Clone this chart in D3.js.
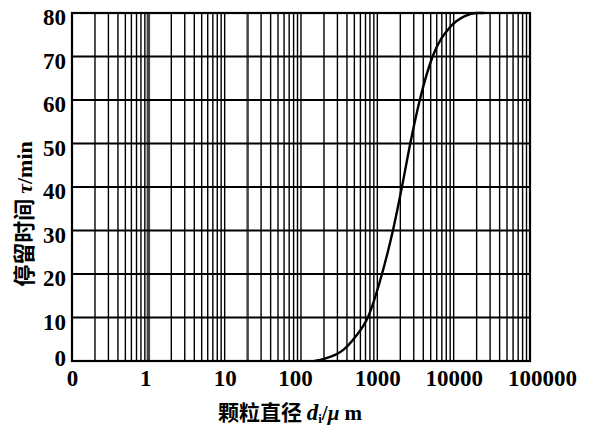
<!DOCTYPE html>
<html>
<head>
<meta charset="utf-8">
<script src="https://cdn.jsdelivr.net/npm/d3@7"></script>
<style>
  body { margin: 0; background: #fff; }
  svg { display: block; }
  .tick text { font-family: "Liberation Serif", "DejaVu Serif", serif; font-weight: bold; font-size: 23px; fill: #000; }
  .title { font-family: "Noto Sans CJK SC", sans-serif; font-weight: bold; font-size: 21px; fill: #000; }
  .title tspan.lat { font-family: "Liberation Serif", serif; font-weight: bold; }
</style>
</head>
<body>
<div id="chart"></div>
<script>
// particle diameter (um) vs residence time (min)
var diam = [150, 200, 280, 355, 513, 750, 1150, 1600, 2100, 2700, 3600, 5300, 9000, 14000, 20000, 25000];
var tau  = [0, 0.5, 1.4, 2.5, 5.5, 10, 20, 30, 40, 50, 60, 70, 76.8, 79.3, 80, 80];

var xTicks = [0.1, 1, 10, 100, 1000, 10000, 100000];
var xLabels = ["0", "1", "10", "100", "1000", "10000", "100000"];
var yTicks = [0, 10, 20, 30, 40, 50, 60, 70, 80];

var W = 594, H = 433;
var pLeft = 72, pRight = 530, pTop = 13, pBottom = 361;

var svg = d3.select("#chart").append("svg")
  .attr("width", W)
  .attr("height", H);

var x = d3.scaleLog().domain([0.1, 100000]).range([pLeft, pRight]);
var y = d3.scaleLinear().domain([0, 80]).range([pBottom, pTop]);

// vertical log grid (1..9 per decade)
svg.append("g")
  .selectAll("line")
  .data(x.ticks())
  .enter().append("line")
  .attr("x1", d => x(d)).attr("x2", d => x(d))
  .attr("y1", pTop).attr("y2", pBottom)
  .attr("stroke", d => (d === 1 || d === 20) ? "#444" : "#000")
  .attr("stroke-width", d => d === 1 ? 3.5 : (d === 20 ? 2.5 : 1.4));

// horizontal grid
svg.append("g")
  .selectAll("line")
  .data(yTicks)
  .enter().append("line")
  .attr("x1", pLeft).attr("x2", pRight)
  .attr("y1", d => y(d)).attr("y2", d => y(d))
  .attr("stroke", "#000")
  .attr("stroke-width", 2.2);

// frame
svg.append("rect")
  .attr("x", pLeft).attr("y", pTop)
  .attr("width", pRight - pLeft).attr("height", pBottom - pTop)
  .attr("fill", "none")
  .attr("stroke", "#000")
  .attr("stroke-width", 2.2);

// axes (labels only)
var xAxis = d3.axisBottom(x)
  .tickValues(xTicks)
  .tickFormat((d, i) => xLabels[i])
  .tickSize(0)
  .tickPadding(9);

var gx = svg.append("g")
  .attr("transform", "translate(0," + pBottom + ")")
  .call(xAxis);
gx.select(".domain").remove();
gx.selectAll(".tick text").attr("dx", (d, i) => i === 6 ? 12 : (i === 3 ? -6 : (i === 1 ? -3 : 0)));

var yAxis = d3.axisLeft(y)
  .tickValues(yTicks)
  .tickSize(0)
  .tickPadding(6);

var gy = svg.append("g")
  .attr("transform", "translate(" + pLeft + ",0)")
  .call(yAxis);
gy.select(".domain").remove();
gy.selectAll(".tick text").attr("dy", (d) => d === 0 ? "0.2em" : "0.5em");

// curve
var line = d3.line()
  .x((d, i) => x(diam[i]))
  .y(d => y(d))
  .curve(d3.curveMonotoneX);

svg.append("path")
  .datum(tau)
  .attr("d", line)
  .attr("fill", "none")
  .attr("stroke", "#000")
  .attr("stroke-width", 2.4);

// axis titles
var xt = svg.append("text")
  .attr("class", "title")
  .attr("x", 290).attr("y", 420)
  .attr("text-anchor", "middle");
xt.append("tspan").text("颗粒直径 ");
xt.append("tspan").attr("class", "lat").attr("font-style", "italic").attr("font-size", "23px").text("d");
xt.append("tspan").attr("class", "lat").attr("font-size", "13px").attr("dy", 3).text("i");
xt.append("tspan").attr("class", "lat").attr("dy", -3).text("/");
xt.append("tspan").attr("class", "lat").attr("font-style", "italic").text("μ");
xt.append("tspan").attr("class", "lat").text(" m");

var yt = svg.append("text")
  .attr("class", "title")
  .attr("transform", "translate(32,214) rotate(-90)")
  .attr("text-anchor", "middle")
  .style("font-size", "22px");
yt.append("tspan").text("停留时间 ");
yt.append("tspan").attr("class", "lat").attr("font-style", "italic").text("τ");
yt.append("tspan").attr("class", "lat").text("/min");
</script>
</body>
</html>
